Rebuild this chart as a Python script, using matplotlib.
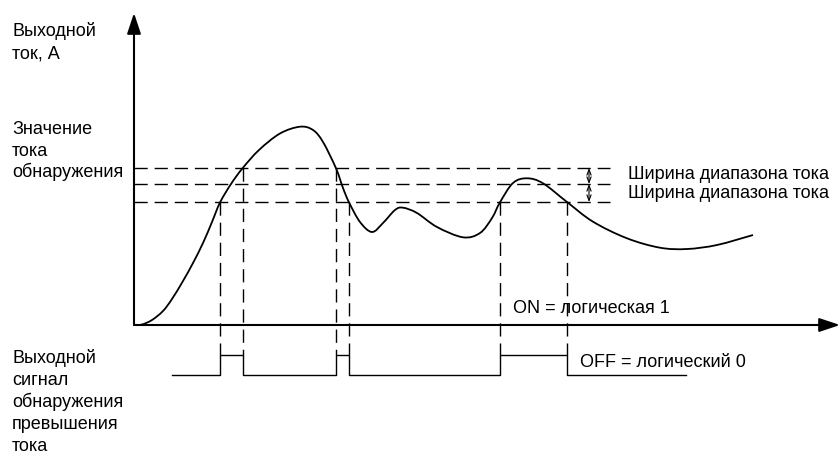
import matplotlib
matplotlib.use("Agg")
import matplotlib.pyplot as plt
from matplotlib.path import Path
from matplotlib.patches import PathPatch

plt.rcParams['font.family'] = ['Liberation Sans', 'DejaVu Sans']

# --- DATA (time / current in drawing units, origin at axes crossing) ---
curve_t = [0, 8, 18, 29, 38, 49, 59, 69, 78, 86, 97, 108.5, 125, 146, 166,
           179, 189, 202, 209, 215, 226, 238, 249, 261, 269, 283, 303, 329,
           346, 358, 366, 379, 393, 409, 433, 459, 493, 526, 553, 583, 619]
curve_i = [0, 0.5, 5, 14, 26, 44, 62, 82, 103, 122.5, 141, 156.7, 175, 191.5,
           198.3, 195, 183, 156.7, 137, 122.7, 103, 93, 102, 115, 117.3, 112,
           98, 87.7, 92, 107, 122.7, 142, 146.7, 141.7, 123, 103.3, 86.7,
           77.3, 76, 80, 90]

levels = [157, 141, 123]          # upper / detect / lower threshold
level_end = 476

# vertical markers: time of crossing and level it starts from
mark_t = [86, 108.5, 202, 215, 366, 433]
mark_i = [123, 157, 157, 123, 123, 123]

# output signal
sig_low, sig_high = -50, -30
sig_start, sig_end = 38, 552
pulses = [(86, 108.5), (202, 214.5), (366, 433)]

band_t = 455
band_label = "Ширина диапазона тока"


def smooth_path(xs, ys):
    # Catmull-Rom through the read points, drawn as cubic Bezier segments
    pts = list(zip(xs, ys))
    verts = [pts[0]]
    codes = [Path.MOVETO]
    n = len(pts)
    for k in range(n - 1):
        p0 = pts[k - 1] if k > 0 else pts[k]
        p1 = pts[k]
        p2 = pts[k + 1]
        p3 = pts[k + 2] if k + 2 < n else pts[k + 1]
        c1 = (p1[0] + (p2[0] - p0[0]) / 6, p1[1] + (p2[1] - p0[1]) / 6)
        c2 = (p2[0] - (p3[0] - p1[0]) / 6, p2[1] - (p3[1] - p1[1]) / 6)
        verts += [c1, c2, p2]
        codes += [Path.CURVE4] * 3
    return Path(verts, codes)


# --- FIGURE ---
fig = plt.figure(figsize=(8.4, 4.54), dpi=100)
ax = fig.add_axes([0, 0, 1, 1])
ax.set_xlim(-134, 706)
ax.set_ylim(-129, 325)
ax.axis("off")

dash = dict(color="black", lw=1.0, dashes=(9.5, 5))

# threshold lines
for lv in levels:
    ax.plot([0, level_end], [lv, lv], **dash)

# vertical markers
for t, i in zip(mark_t, mark_i):
    ax.plot([t, t], [i, sig_high], **dash)

# current curve
ax.add_patch(PathPatch(smooth_path(curve_t, curve_i), fill=False,
                       edgecolor="black", lw=1.3))

# axes with arrows
head = "-|>,head_length=0.9,head_width=0.3"
ax.annotate("", xy=(0, 312), xytext=(0, 0),
            arrowprops=dict(arrowstyle=head, lw=1.5, color="black",
                            shrinkA=0, shrinkB=0, mutation_scale=14))
ax.annotate("", xy=(706, 0), xytext=(0, 0),
            arrowprops=dict(arrowstyle=head, lw=1.5, color="black",
                            shrinkA=0, shrinkB=0, mutation_scale=14))

# band width arrows
for a, b in [(levels[0], levels[1]), (levels[1], levels[2])]:
    ax.annotate("", xy=(band_t, a), xytext=(band_t, b),
                arrowprops=dict(arrowstyle="<->,head_length=0.4,head_width=0.15",
                                lw=0.8, color="black", shrinkA=0, shrinkB=0,
                                mutation_scale=10))

# signal trace
sx, sy = [sig_start], [sig_low]
for on, off in pulses:
    sx += [on, on, off, off]
    sy += [sig_low, sig_high, sig_high, sig_low]
sx.append(sig_end)
sy.append(sig_low)
ax.plot(sx, sy, color="black", lw=1.0)

# --- TEXT ---
fs = 13
left = -122


def lines(texts, first_base, step):
    for k, s in enumerate(texts):
        ax.text(left, 325 - (first_base + k * step), s, fontsize=fs,
                va="baseline", ha="left")


lines(["Выходной", "ток, А"], 36, 22.5)
lines(["Значение", "тока", "обнаружения"], 134, 21.5)
lines(["Выходной", "сигнал", "обнаружения", "превышения", "тока"], 362.7, 22)

ax.text(494, 325 - 179, band_label, fontsize=fs, va="baseline", ha="left")
ax.text(494, 325 - 198.3, band_label, fontsize=fs, va="baseline", ha="left")
ax.text(379, 325 - 313.3, "ON = логическая 1", fontsize=fs, va="baseline",
        ha="left")
ax.text(446, 325 - 367.3, "OFF = логический 0", fontsize=fs, va="baseline",
        ha="left")

fig.savefig("out.png", dpi=100)
